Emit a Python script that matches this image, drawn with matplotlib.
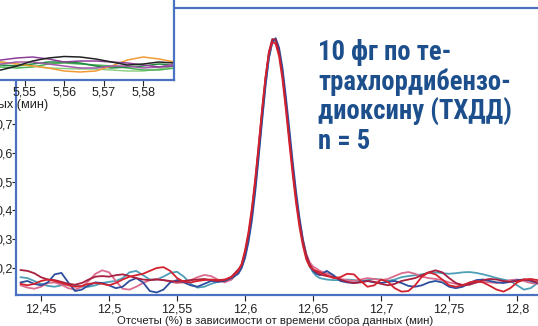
import numpy as np
import matplotlib
matplotlib.use("Agg")
import matplotlib.pyplot as plt
from matplotlib import font_manager

# ---------------- data ----------------
t_left = np.round(np.arange(12.435, 12.5951, 0.005), 4)      # 33 points
t_peak = np.round(np.arange(12.5975, 12.6551, 0.0025), 4)    # 24 points
t_right = np.round(np.arange(12.66, 12.8201, 0.005), 4)      # 33 points
time_min = np.concatenate([t_left, t_peak, t_right])

run_dark_blue = (
    [0.150, 0.155, 0.145, 0.140, 0.150, 0.178, 0.183, 0.150, 0.120, 0.125, 0.140, 0.150, 0.148,
     0.140, 0.130, 0.135, 0.155, 0.165, 0.150, 0.120, 0.115, 0.125, 0.150, 0.158, 0.150, 0.140,
     0.135, 0.145, 0.155, 0.152, 0.155, 0.165, 0.180]
    + [0.200, 0.235, 0.290, 0.365, 0.465, 0.585, 0.710, 0.830, 0.930, 0.985, 0.998, 0.965,
       0.895, 0.795, 0.685, 0.570, 0.465, 0.375, 0.300, 0.245, 0.210, 0.190, 0.180, 0.175]
    + [0.190, 0.175, 0.155, 0.150, 0.148, 0.152, 0.155, 0.150, 0.148, 0.152, 0.155, 0.148, 0.138,
       0.135, 0.140, 0.150, 0.155, 0.150, 0.135, 0.130, 0.135, 0.148, 0.158, 0.160, 0.155, 0.150,
       0.148, 0.152, 0.158, 0.160, 0.155, 0.148, 0.145]
)
run_teal = (
    [0.168, 0.165, 0.155, 0.145, 0.138, 0.135, 0.140, 0.145, 0.140, 0.135, 0.135, 0.140, 0.148,
     0.152, 0.155, 0.165, 0.185, 0.190, 0.175, 0.160, 0.160, 0.170, 0.183, 0.187, 0.170, 0.145,
     0.132, 0.135, 0.145, 0.152, 0.155, 0.160, 0.185]
    + [0.205, 0.245, 0.302, 0.382, 0.482, 0.600, 0.722, 0.838, 0.928, 0.982, 0.990, 0.952,
       0.878, 0.775, 0.662, 0.548, 0.445, 0.358, 0.290, 0.240, 0.205, 0.185, 0.172, 0.165]
    + [0.160, 0.158, 0.158, 0.160, 0.158, 0.155, 0.158, 0.162, 0.160, 0.155, 0.160, 0.168, 0.172,
       0.175, 0.178, 0.183, 0.185, 0.182, 0.180, 0.182, 0.185, 0.186, 0.183, 0.178, 0.172, 0.165,
       0.160, 0.155, 0.140, 0.125, 0.130, 0.148, 0.152]
)
run_red = (
    [0.145, 0.140, 0.145, 0.155, 0.160, 0.155, 0.148, 0.140, 0.135, 0.138, 0.145, 0.148, 0.145,
     0.140, 0.148, 0.160, 0.170, 0.175, 0.180, 0.190, 0.200, 0.203, 0.190, 0.165, 0.152, 0.150,
     0.155, 0.158, 0.160, 0.158, 0.160, 0.168, 0.190]
    + [0.215, 0.262, 0.325, 0.408, 0.510, 0.628, 0.750, 0.860, 0.945, 0.985, 0.978, 0.935,
       0.855, 0.750, 0.635, 0.525, 0.425, 0.342, 0.278, 0.230, 0.205, 0.195, 0.190, 0.185]
    + [0.175, 0.165, 0.168, 0.180, 0.178, 0.155, 0.135, 0.140, 0.160, 0.152, 0.130, 0.118, 0.120,
       0.140, 0.170, 0.185, 0.178, 0.160, 0.140, 0.135, 0.140, 0.150, 0.155, 0.150, 0.138, 0.125,
       0.118, 0.130, 0.150, 0.160, 0.162, 0.158, 0.150]
)
run_dark_red = (
    [0.193, 0.190, 0.182, 0.168, 0.160, 0.158, 0.152, 0.145, 0.142, 0.148, 0.160, 0.170, 0.172,
     0.170, 0.175, 0.178, 0.172, 0.165, 0.160, 0.158, 0.160, 0.158, 0.155, 0.152, 0.155, 0.158,
     0.160, 0.162, 0.158, 0.155, 0.158, 0.170, 0.195]
    + [0.210, 0.255, 0.315, 0.397, 0.500, 0.620, 0.745, 0.860, 0.950, 0.995, 0.993, 0.948,
       0.870, 0.765, 0.652, 0.540, 0.440, 0.355, 0.290, 0.242, 0.212, 0.195, 0.185, 0.178]
    + [0.172, 0.168, 0.160, 0.152, 0.148, 0.150, 0.155, 0.152, 0.145, 0.140, 0.145, 0.155, 0.160,
       0.165, 0.175, 0.185, 0.192, 0.185, 0.165, 0.148, 0.140, 0.142, 0.150, 0.158, 0.162, 0.160,
       0.155, 0.152, 0.155, 0.160, 0.158, 0.150, 0.145]
)
run_pink = (
    [0.140, 0.132, 0.128, 0.135, 0.148, 0.150, 0.142, 0.130, 0.125, 0.135, 0.155, 0.180, 0.192,
     0.185, 0.155, 0.128, 0.125, 0.135, 0.148, 0.158, 0.162, 0.158, 0.152, 0.148, 0.150, 0.158,
     0.168, 0.176, 0.172, 0.160, 0.150, 0.160, 0.188]
    + [0.208, 0.250, 0.308, 0.390, 0.492, 0.612, 0.735, 0.850, 0.940, 0.990, 0.992, 0.952,
       0.876, 0.772, 0.660, 0.550, 0.450, 0.365, 0.298, 0.250, 0.220, 0.205, 0.198, 0.190]
    + [0.182, 0.172, 0.162, 0.158, 0.155, 0.160, 0.165, 0.162, 0.158, 0.162, 0.172, 0.182, 0.186,
       0.180, 0.170, 0.165, 0.162, 0.158, 0.150, 0.145, 0.142, 0.145, 0.150, 0.152, 0.150, 0.148,
       0.152, 0.158, 0.160, 0.155, 0.148, 0.145, 0.148]
)
main_runs = [run_teal, run_pink, run_dark_blue, run_dark_red, run_red]
main_colors = ["#4E9EB8", "#DB6C8E", "#2D4F9E", "#A8203F", "#D3222F"]

x_ticks = [12.45, 12.5, 12.55, 12.6, 12.65, 12.7, 12.75, 12.8]
x_tick_labels = ["12,45", "12,5", "12,55", "12,6", "12,65", "12,7", "12,75", "12,8"]
y_ticks = [0.2, 0.3, 0.4, 0.5, 0.6, 0.7]
y_tick_labels = ["0,2", "0,3", "0,4", "0,5", "0,6", "0,7"]

# inset (other compound window)
inset_time = [5.540, 5.544, 5.548, 5.552, 5.556, 5.560, 5.564, 5.568, 5.572, 5.576, 5.580, 5.584, 5.588]
inset_black = [0.08, 0.10, 0.14, 0.19, 0.22, 0.235, 0.23, 0.21, 0.18, 0.15, 0.16, 0.18, 0.17]
inset_orange = [0.19, 0.18, 0.16, 0.14, 0.12, 0.09, 0.08, 0.09, 0.14, 0.20, 0.23, 0.21, 0.18]
inset_purple1 = [0.19, 0.20, 0.22, 0.23, 0.21, 0.18, 0.19, 0.19, 0.18, 0.17, 0.15, 0.13, 0.14]
inset_purple2 = [0.15, 0.16, 0.18, 0.18, 0.16, 0.14, 0.12, 0.12, 0.14, 0.14, 0.12, 0.13, 0.16]
inset_green_dark = [0.15, 0.15, 0.14, 0.16, 0.18, 0.18, 0.17, 0.14, 0.12, 0.13, 0.14, 0.16, 0.15]
inset_green_mid = [0.14, 0.13, 0.12, 0.13, 0.16, 0.17, 0.16, 0.15, 0.14, 0.12, 0.10, 0.10, 0.12]
inset_green_light = [0.19, 0.18, 0.16, 0.14, 0.12, 0.115, 0.11, 0.11, 0.10, 0.09, 0.09, 0.11, 0.14]
inset_runs = [inset_green_light, inset_green_mid, inset_green_dark, inset_orange,
              inset_purple2, inset_purple1, inset_black]
inset_colors = ["#8FCF85", "#4DB356", "#1F8A3E", "#F39A35", "#A45AAE", "#8E3F9A", "#222222"]
inset_ticks = [5.55, 5.56, 5.57, 5.58]
inset_tick_labels = ["5,55", "5,56", "5,57", "5,58"]

xlabel_text = "Отсчеты (%) в зависимости от времени сбора данных (мин)"
note_text = "10 фг по те-\nтрахлордибензо-\nдиоксину (ТХДД)\nn = 5"

# pick a condensed bold family if one is installed
installed = {f.name for f in font_manager.fontManager.ttflist}
note_family = None
for cand in ["Liberation Sans Narrow", "Roboto Condensed", "DejaVu Sans Condensed", "Roboto"]:
    if cand in installed:
        note_family = cand
        break
if note_family is None:
    note_family = "Liberation Sans"
note_size = 19.2 if note_family in ("Liberation Sans Narrow", "Roboto Condensed", "DejaVu Sans Condensed") else 16.5

# ---------------- figure ----------------
W, H = 538, 326
plt.rcParams['font.family'] = ['Liberation Sans', 'DejaVu Sans']
fig = plt.figure(figsize=(W / 100, H / 100), dpi=100)

def px_rect(x0, y0, x1, y1):
    return [x0 / W, 1 - y1 / H, (x1 - x0) / W, (y1 - y0) / H]

spine_c = "#4A72C0"
tick_c = "#222222"

ax = fig.add_axes(px_rect(16, 8, 545, 295))
for vals, c in zip(main_runs, main_colors):
    ax.plot(time_min, vals, color=c, lw=1.3, solid_joinstyle="round")
ax.set_xlim(12.4316, 12.8205)
ax.set_ylim(0.1063, 1.1028)
ax.set_xticks(x_ticks)
ax.set_xticklabels(x_tick_labels)
ax.set_yticks(y_ticks)
ax.set_yticklabels(y_tick_labels)
ax.tick_params(axis="x", direction="out", length=4, width=0.8, color=tick_c,
               labelsize=9, labelcolor=tick_c, pad=2)
ax.tick_params(axis="y", direction="out", length=3, width=0.8, color=tick_c,
               labelsize=9, labelcolor=tick_c, pad=-1)
for s in ax.spines.values():
    s.set_color(spine_c)
    s.set_linewidth(1.6)

fig.text(275 / W, 1 - 321 / H, xlabel_text, ha="center", va="center", fontsize=8.2, color="#222222")

fig.text(318 / W, 1 - 39 / H, note_text, ha="left", va="top",
         fontsize=note_size, fontweight="bold", color="#1C4F8C", linespacing=1.10,
         family=[note_family, "DejaVu Sans"])

# inset
axi = fig.add_axes(px_rect(-300, -100, 174, 80))
axi.set_facecolor("white")
for vals, c in zip(inset_runs, inset_colors):
    axi.plot(inset_time, vals, color=c, lw=1.1)
axi.set_xlim(5.4678, 5.5878)
axi.set_ylim(0, 1.8)
axi.set_xticks(inset_ticks)
axi.set_xticklabels(inset_tick_labels)
axi.set_yticks([])
axi.tick_params(axis="x", direction="out", length=4, width=0.8, color=tick_c,
                labelsize=9, labelcolor=tick_c, pad=1)
for s in axi.spines.values():
    s.set_color(spine_c)
    s.set_linewidth(1.6)

fig.text(48 / W, 1 - 105 / H, xlabel_text, ha="right", va="center", fontsize=9.2, color="#222222")

fig.savefig("out.png", dpi=100)
